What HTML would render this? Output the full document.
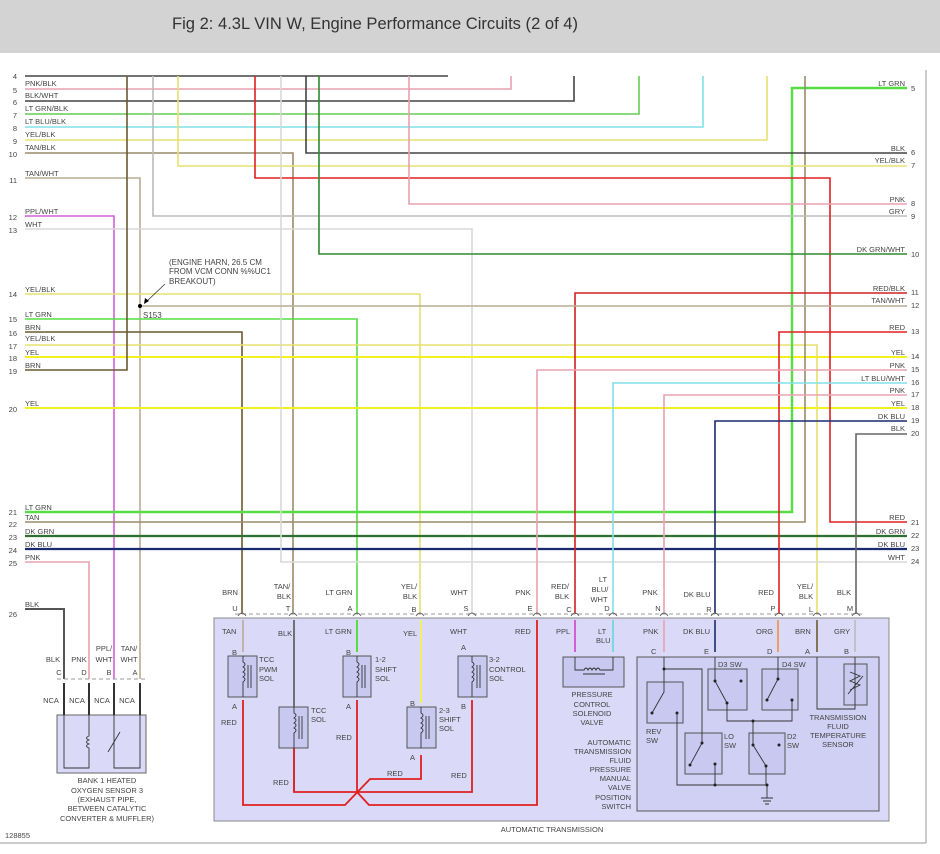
<!DOCTYPE html>
<html><head><meta charset="utf-8"><style>
html,body{margin:0;padding:0;background:#fff;}
svg{display:block;font-family:"Liberation Sans",sans-serif;}
</style></head><body>
<svg width="940" height="854" viewBox="0 0 940 854" xmlns="http://www.w3.org/2000/svg">
<rect x="0" y="0" width="940" height="53" fill="#d3d3d3"/>
<text x="172" y="29" font-size="17" fill="#333" textLength="406" lengthAdjust="spacingAndGlyphs">Fig 2: 4.3L VIN W, Engine Performance Circuits (2 of 4)</text>
<g stroke="#999" stroke-width="1" fill="none">
<line x1="926" y1="70" x2="926" y2="843"/><line x1="0" y1="843" x2="926" y2="843"/>
</g>
<!-- transmission box -->
<rect x="214" y="618" width="675" height="203" fill="#dadaf8" stroke="#888" stroke-width="1"/>
<rect x="637" y="657" width="242" height="154" fill="#d0d0f4" stroke="#555" stroke-width="1"/>
<!-- O2 sensor box -->
<rect x="57" y="715" width="89" height="58" fill="#dadaf8" stroke="#666" stroke-width="1"/>
<g fill="none" stroke-width="1.6">
<!-- left rows -->
<polyline points="25,76 448,76" stroke="#444"/>
<polyline points="25,89 511,89 511,76" stroke="#e8a0b0"/>
<polyline points="25,101 574,101 574,76" stroke="#444"/>
<polyline points="25,114 639,114 639,76" stroke="#66cc55"/>
<polyline points="25,127 703,127 703,76" stroke="#80e0e8"/>
<polyline points="25,140 767,140 767,76" stroke="#e6e070"/>
<polyline points="25,153 293,153 293,614" stroke="#9a8a6a"/>
<polyline points="25,178 140,178 140,679" stroke="#b8ab94"/>
<polyline points="25,216 114,216 114,679" stroke="#d060d8"/>
<polyline points="25,229 472,229 472,614" stroke="#d8d8d8"/>
<polyline points="25,294 420,294 420,614" stroke="#e6e070"/>
<polyline points="25,319 357,319 357,614" stroke="#55dd44"/>
<polyline points="25,332 242,332 242,614" stroke="#6b5a30"/>
<polyline points="25,345 817,345 817,614" stroke="#e6e070"/>
<polyline points="25,357 907,357" stroke="#f2f020" stroke-width="2"/>
<polyline points="25,370 127,370 127,76" stroke="#6b5a30"/>
<polyline points="25,408 907,408" stroke="#f2f020" stroke-width="2"/>
<polyline points="25,512 792,512 792,88 907,88" stroke="#55dd44" stroke-width="2.4"/>
<polyline points="25,522 805,522 805,76" stroke="#9a8a6a"/>
<polyline points="25,536 907,536" stroke="#2e6e2e" stroke-width="2.2"/>
<polyline points="25,549 907,549" stroke="#1a2a70" stroke-width="2.2"/>
<polyline points="25,562 89,562 89,679" stroke="#e8a0b0"/>
<polyline points="25,609 64,609 64,679" stroke="#555" stroke-width="2"/>
<!-- verticals from top -->
<polyline points="153,76 153,216 907,216" stroke="#bbb"/>
<polyline points="178,76 178,166 907,166" stroke="#e6e070"/>
<polyline points="255,76 255,178 830,178 830,522 907,522" stroke="#e02020"/>
<polyline points="281,76 281,562 907,562" stroke="#d8d8d8"/>
<polyline points="306,76 306,153 907,153" stroke="#444"/>
<polyline points="319,76 319,254 907,254" stroke="#2e8a2e"/>
<polyline points="409,76 409,204 907,204" stroke="#e8a0b0"/>
<!-- right-only -->
<polyline points="907,293 575,293 575,614" stroke="#d02020"/>
<polyline points="907,306 140,306" stroke="#b8ab94"/>
<polyline points="907,332 779,332 779,614" stroke="#e02020"/>
<polyline points="907,370 537,370 537,614" stroke="#e8a0b0"/>
<polyline points="907,383 613,383 613,614" stroke="#80e0e8"/>
<polyline points="907,395 664,395 664,614" stroke="#e8a0b0"/>
<polyline points="907,421 715,421 715,614" stroke="#1a2a70"/>
<polyline points="907,434 856,434 856,614" stroke="#666"/>
</g>
<!-- splice -->
<circle cx="140" cy="306" r="2" fill="#000"/>
<line x1="165" y1="284" x2="146" y2="302" stroke="#333" stroke-width="0.8"/>
<polygon points="144,304 145,298 149,301" fill="#000"/>
<g font-size="8" fill="#444">
<text x="143" y="318">S153</text>
<text x="169" y="265">(ENGINE HARN, 26.5 CM</text>
<text x="169" y="274">FROM VCM CONN %%UC1</text>
<text x="169" y="284">BREAKOUT)</text>
</g>
<!-- left labels -->
<g font-size="7.5" fill="#444">
<text x="25" y="86">PNK/BLK</text><text x="25" y="98">BLK/WHT</text><text x="25" y="111">LT GRN/BLK</text>
<text x="25" y="124">LT BLU/BLK</text><text x="25" y="137">YEL/BLK</text><text x="25" y="150">TAN/BLK</text>
<text x="25" y="176">TAN/WHT</text><text x="25" y="214">PPL/WHT</text><text x="25" y="227">WHT</text>
<text x="25" y="292">YEL/BLK</text><text x="25" y="317">LT GRN</text><text x="25" y="330">BRN</text>
<text x="25" y="341">YEL/BLK</text><text x="25" y="355">YEL</text><text x="25" y="368">BRN</text>
<text x="25" y="406">YEL</text><text x="25" y="510">LT GRN</text><text x="25" y="520">TAN</text>
<text x="25" y="534">DK GRN</text><text x="25" y="547">DK BLU</text><text x="25" y="560">PNK</text>
<text x="25" y="607">BLK</text>
</g>
<g font-size="7.5" fill="#444" text-anchor="end">
<text x="17" y="79">4</text><text x="17" y="93">5</text><text x="17" y="105">6</text><text x="17" y="118">7</text>
<text x="17" y="131">8</text><text x="17" y="144">9</text><text x="17" y="157">10</text><text x="17" y="183">11</text>
<text x="17" y="220">12</text><text x="17" y="233">13</text><text x="17" y="297">14</text><text x="17" y="322">15</text>
<text x="17" y="336">16</text><text x="17" y="349">17</text><text x="17" y="361">18</text><text x="17" y="374">19</text>
<text x="17" y="412">20</text><text x="17" y="515">21</text><text x="17" y="527">22</text><text x="17" y="540">23</text>
<text x="17" y="553">24</text><text x="17" y="566">25</text><text x="17" y="617">26</text>
</g>
<!-- right labels -->
<g font-size="7.5" fill="#444" text-anchor="end">
<text x="905" y="86">LT GRN</text><text x="905" y="151">BLK</text><text x="905" y="163">YEL/BLK</text>
<text x="905" y="202">PNK</text><text x="905" y="214">GRY</text><text x="905" y="252">DK GRN/WHT</text>
<text x="905" y="291">RED/BLK</text><text x="905" y="303">TAN/WHT</text><text x="905" y="330">RED</text>
<text x="905" y="355">YEL</text><text x="905" y="368">PNK</text><text x="905" y="381">LT BLU/WHT</text>
<text x="905" y="393">PNK</text><text x="905" y="406">YEL</text><text x="905" y="419">DK BLU</text>
<text x="905" y="431">BLK</text><text x="905" y="520">RED</text><text x="905" y="534">DK GRN</text>
<text x="905" y="547">DK BLU</text><text x="905" y="560">WHT</text>
</g>
<g font-size="7.5" fill="#444">
<text x="911" y="91">5</text><text x="911" y="155">6</text><text x="911" y="168">7</text><text x="911" y="206">8</text>
<text x="911" y="219">9</text><text x="911" y="257">10</text><text x="911" y="295">11</text><text x="911" y="308">12</text>
<text x="911" y="334">13</text><text x="911" y="359">14</text><text x="911" y="372">15</text><text x="911" y="385">16</text>
<text x="911" y="397">17</text><text x="911" y="410">18</text><text x="911" y="423">19</text><text x="911" y="436">20</text>
<text x="911" y="525">21</text><text x="911" y="538">22</text><text x="911" y="551">23</text><text x="911" y="564">24</text>
</g>
<!-- pin row -->
<line x1="235" y1="614" x2="862" y2="614" stroke="#999" stroke-dasharray="4,3"/>
<g fill="none" stroke="#666" stroke-width="0.9">
<path d="M238,616 Q242,610 246,616M289,616 Q293,610 297,616M353,616 Q357,610 361,616M416,616 Q420,610 424,616M468,616 Q472,610 476,616M533,616 Q537,610 541,616M571,616 Q575,610 579,616M609,616 Q613,610 617,616M660,616 Q664,610 668,616M711,616 Q715,610 719,616M775,616 Q779,610 783,616M813,616 Q817,610 821,616M852,616 Q856,610 860,616"/>
</g>
<g font-size="7.5" fill="#444" text-anchor="middle">
<text x="230" y="595">BRN</text><text x="282" y="589">TAN/</text><text x="284" y="599">BLK</text>
<text x="339" y="595">LT GRN</text><text x="409" y="589">YEL/</text><text x="410" y="599">BLK</text>
<text x="459" y="595">WHT</text><text x="523" y="595">PNK</text><text x="560" y="589">RED/</text><text x="562" y="599">BLK</text>
<text x="603" y="582">LT</text><text x="600" y="592">BLU/</text><text x="599" y="602">WHT</text>
<text x="650" y="595">PNK</text><text x="697" y="597">DK BLU</text><text x="766" y="595">RED</text>
<text x="805" y="589">YEL/</text><text x="806" y="599">BLK</text><text x="844" y="595">BLK</text>
<text x="235" y="611">U</text><text x="288" y="611">T</text><text x="350" y="611">A</text><text x="414" y="612">B</text>
<text x="466" y="611">S</text><text x="530" y="611">E</text><text x="569" y="612">C</text><text x="607" y="611">D</text>
<text x="658" y="611">N</text><text x="709" y="612">R</text><text x="773" y="611">P</text><text x="811" y="612">L</text><text x="850" y="611">M</text>
</g>
<!-- inside transmission wires -->
<g fill="none" stroke-width="1.6">
<line x1="243" y1="620" x2="243" y2="652" stroke="#b8ab94"/>
<line x1="294" y1="620" x2="294" y2="792" stroke="#555"/>
<line x1="357" y1="620" x2="357" y2="652" stroke="#55dd44" stroke-width="2"/>
<line x1="421" y1="620" x2="421" y2="703" stroke="#f0f060" stroke-width="2"/>
<line x1="575" y1="620" x2="575" y2="652" stroke="#d040d0"/>
<line x1="613" y1="620" x2="613" y2="652" stroke="#60d8e0"/>
<line x1="664" y1="620" x2="664" y2="652" stroke="#e8a0b0"/>
<line x1="715" y1="620" x2="715" y2="652" stroke="#1a2a70"/>
<line x1="778" y1="620" x2="778" y2="652" stroke="#f09040"/>
<line x1="817" y1="620" x2="817" y2="652" stroke="#6b5a30"/>
<line x1="855" y1="620" x2="855" y2="652" stroke="#bbb"/>
<g stroke="#e02020" stroke-width="1.8">
<polyline points="243,700 243,805 345,805 370,779 421,779 421,755"/>
<polyline points="294,748 294,792 472,792 472,700"/>
<polyline points="357,700 357,792 369,805 537,805 537,620"/>
</g>
</g>
<!-- solenoid boxes -->
<g fill="#c8c8f0" stroke="#555" stroke-width="1">
<rect x="228" y="656" width="29" height="41"/><rect x="279" y="707" width="29" height="41"/>
<rect x="343" y="656" width="28" height="41"/><rect x="407" y="707" width="29" height="41"/>
<rect x="458" y="656" width="29" height="41"/><rect x="563" y="657" width="61" height="30"/>
<rect x="647" y="682" width="36" height="41"/><rect x="708" y="669" width="39" height="41"/>
<rect x="762" y="669" width="36" height="41"/><rect x="685" y="733" width="37" height="41"/>
<rect x="749" y="733" width="36" height="41"/><rect x="844" y="664" width="23" height="41"/>
</g>
<g fill="none" stroke="#333" stroke-width="0.9">
<path d="M243,656 V662 q4,2 0,5 q4,2 0,5 q4,2 0,5 q4,2 0,5 V697 M248,665 V688 M251,665 V688"/>
<path d="M294,707 V713 q4,2 0,5 q4,2 0,5 q4,2 0,5 q4,2 0,5 V748 M299,716 V739 M302,716 V739"/>
<path d="M357,656 V662 q4,2 0,5 q4,2 0,5 q4,2 0,5 q4,2 0,5 V697 M362,665 V688 M365,665 V688"/>
<path d="M421,707 V713 q4,2 0,5 q4,2 0,5 q4,2 0,5 q4,2 0,5 V748 M426,716 V739 M429,716 V739"/>
<path d="M472,656 V662 q4,2 0,5 q4,2 0,5 q4,2 0,5 q4,2 0,5 V697 M477,665 V688 M480,665 V688"/>
<path d="M575,657 V670 H584 q2,-4 4,0 q2,-4 4,0 q2,-4 4,0 q2,-4 4,0 H613 V657 M583,674 H605"/>
<!-- O2 sensor internals -->
<path d="M64,683 V715 M89,683 V715 M114,683 V715 M140,683 V715" stroke-width="2"/>
<path d="M64,715 V768 H89 V748 q-5,-2 0,-4 q-5,-2 0,-4 q-5,-2 0,-4 V715 M114,715 V768 H140 V715 M108,752 L120,732"/>
<!-- switch network -->
<path d="M664,657 V692 L652,713 M664,669 H702 V743 L690,765 M677,713 V785 H767 M715,657 V681 L727,703 V721 H792 V700 M753,721 V745 L766,766 V785 M778,657 V679 L767,700 M715,764 V785 M767,785 V798 M761,798 H773 M763,801 H771 M765,804 H769"/>
<path d="M817,657 V709 H855 V657 M855,664 V705 M850,690 l10,-5 l-10,-4 l10,-5 l-10,-4 M848,694 L863,676"/>
</g>
<g fill="#222">
<circle cx="664" cy="669" r="1.5"/><circle cx="677" cy="713" r="1.5"/><circle cx="652" cy="713" r="1.5"/>
<circle cx="715" cy="681" r="1.5"/><circle cx="741" cy="681" r="1.5"/><circle cx="727" cy="703" r="1.5"/>
<circle cx="778" cy="679" r="1.5"/><circle cx="767" cy="700" r="1.5"/><circle cx="792" cy="700" r="1.5"/>
<circle cx="702" cy="743" r="1.5"/><circle cx="690" cy="765" r="1.5"/><circle cx="715" cy="764" r="1.5"/>
<circle cx="753" cy="745" r="1.5"/><circle cx="779" cy="745" r="1.5"/><circle cx="766" cy="766" r="1.5"/>
<circle cx="753" cy="721" r="1.5"/><circle cx="715" cy="785" r="1.5"/><circle cx="767" cy="785" r="1.5"/>
</g>
<!-- O2 pins -->
<line x1="57" y1="679" x2="146" y2="679" stroke="#999" stroke-dasharray="4,3"/>
<g font-size="7.5" fill="#444" text-anchor="middle">
<text x="53" y="662">BLK</text><text x="79" y="662">PNK</text><text x="104" y="651">PPL/</text><text x="104" y="662">WHT</text>
<text x="129" y="651">TAN/</text><text x="129" y="662">WHT</text>
<text x="59" y="675">C</text><text x="84" y="675">D</text><text x="109" y="675">B</text><text x="135" y="675">A</text>
<text x="51" y="703">NCA</text><text x="77" y="703">NCA</text><text x="102" y="703">NCA</text><text x="127" y="703">NCA</text>
<text x="107" y="783">BANK 1 HEATED</text><text x="107" y="793">OXYGEN SENSOR 3</text><text x="107" y="802">(EXHAUST PIPE,</text>
<text x="107" y="811">BETWEEN CATALYTIC</text><text x="107" y="821">CONVERTER &amp; MUFFLER)</text>
<text x="552" y="832">AUTOMATIC TRANSMISSION</text>
<text x="592" y="697">PRESSURE</text><text x="592" y="707">CONTROL</text><text x="592" y="716">SOLENOID</text><text x="592" y="725">VALVE</text>
<text x="838" y="720">TRANSMISSION</text><text x="838" y="729">FLUID</text><text x="838" y="738">TEMPERATURE</text><text x="838" y="747">SENSOR</text>
</g>
<g font-size="7.5" fill="#444">
<text x="5" y="838">128855</text>
<text x="222" y="634">TAN</text><text x="278" y="636">BLK</text><text x="325" y="634">LT GRN</text><text x="403" y="636">YEL</text>
<text x="450" y="634">WHT</text><text x="515" y="634">RED</text><text x="556" y="634">PPL</text><text x="598" y="634">LT</text><text x="596" y="643">BLU</text>
<text x="643" y="634">PNK</text><text x="683" y="634">DK BLU</text><text x="756" y="634">ORG</text><text x="795" y="634">BRN</text><text x="834" y="634">GRY</text>
<text x="259" y="662">TCC</text><text x="259" y="672">PWM</text><text x="259" y="681">SOL</text>
<text x="311" y="713">TCC</text><text x="311" y="722">SOL</text>
<text x="375" y="662">1-2</text><text x="375" y="672">SHIFT</text><text x="375" y="681">SOL</text>
<text x="439" y="713">2-3</text><text x="439" y="722">SHIFT</text><text x="439" y="731">SOL</text>
<text x="489" y="662">3-2</text><text x="489" y="672">CONTROL</text><text x="489" y="681">SOL</text>
<text x="221" y="725">RED</text><text x="336" y="740">RED</text><text x="273" y="785">RED</text><text x="387" y="776">RED</text><text x="451" y="778">RED</text>
<text x="232" y="655">B</text><text x="232" y="709">A</text><text x="346" y="655">B</text><text x="346" y="709">A</text>
<text x="410" y="706">B</text><text x="410" y="760">A</text><text x="461" y="650">A</text><text x="461" y="709">B</text>
<text x="651" y="654">C</text><text x="704" y="654">E</text><text x="767" y="654">D</text><text x="805" y="654">A</text><text x="844" y="654">B</text>
<text x="718" y="667">D3 SW</text><text x="782" y="667">D4 SW</text>
<text x="646" y="734">REV</text><text x="646" y="743">SW</text><text x="724" y="739">LO</text><text x="724" y="748">SW</text>
<text x="787" y="739">D2</text><text x="787" y="748">SW</text>
</g>
<g font-size="7.5" fill="#444" text-anchor="end">
<text x="631" y="745">AUTOMATIC</text><text x="631" y="754">TRANSMISSION</text><text x="631" y="763">FLUID</text><text x="631" y="772">PRESSURE</text>
<text x="631" y="781">MANUAL</text><text x="631" y="790">VALVE</text><text x="631" y="800">POSITION</text><text x="631" y="809">SWITCH</text>
</g>
</svg>
</body></html>
